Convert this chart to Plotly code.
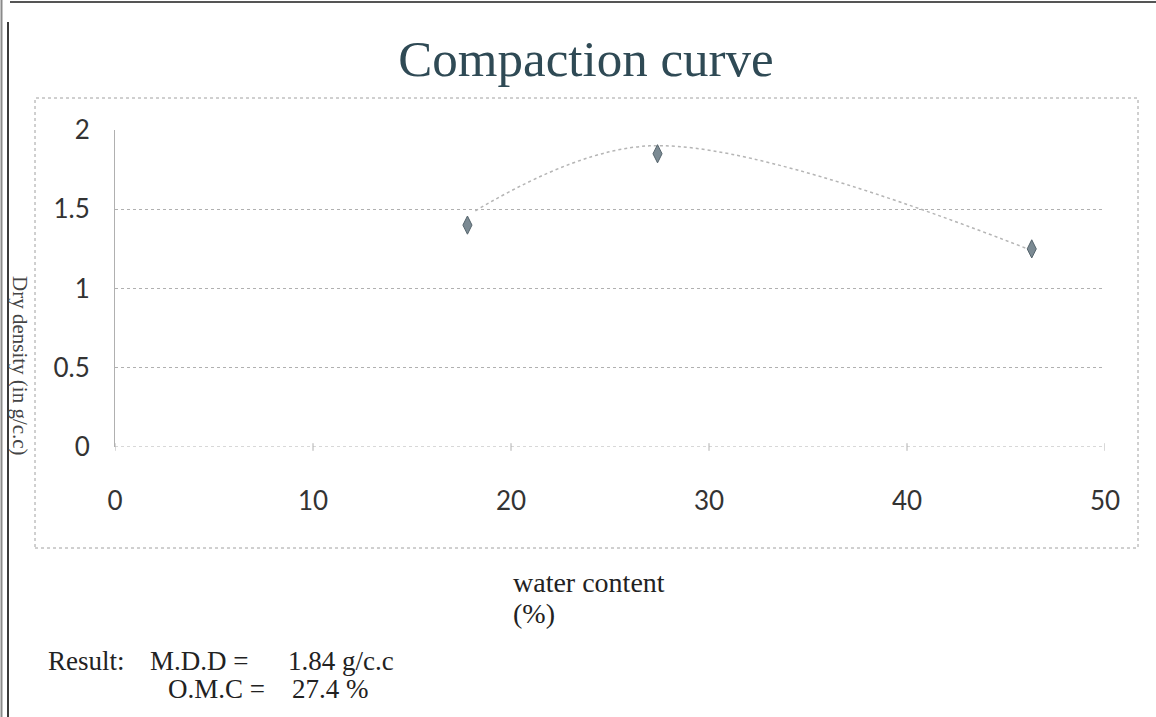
import plotly.graph_objects as go

# Data
water_content = [17.8, 27.4, 46.3]
dry_density = [1.40, 1.85, 1.25]

# smooth trend curve drawn through the data
curve_x = [18.2, 27.0, 46.3]
curve_y = [1.49, 1.90, 1.24]

x_ticks = [0, 10, 20, 30, 40, 50]
y_ticks = [0, 0.5, 1, 1.5, 2]

W, H = 1156, 717
L, R, T, B = 115, 51, 130, 270
PW, PH = W - L - R, H - T - B


def px(x):
    return (x - L) / PW


def py(y):
    return (H - B - y) / PH


fig = go.Figure()
fig.add_trace(go.Scatter(
    x=curve_x, y=curve_y, mode="lines",
    line=dict(shape="spline", smoothing=1.0, color="#b5b5b5", width=1.5, dash="dot"),
    hoverinfo="skip", showlegend=False))
fig.add_trace(go.Scatter(
    x=water_content, y=dry_density, mode="markers",
    marker=dict(symbol="diamond-tall", size=13, color="#7b8a93",
                line=dict(color="#55646c", width=1)),
    showlegend=False))

fig.update_layout(
    width=W, height=H,
    margin=dict(l=L, r=R, t=T, b=B),
    paper_bgcolor="white", plot_bgcolor="white",
    title=dict(text="Compaction curve", x=586 / W, xref="container", xanchor="center",
               y=1 - 58 / H, yref="container", yanchor="middle",
               font=dict(family="Liberation Serif", size=51, color="#2f4a55")),
    xaxis=dict(range=[0, 50], tickvals=x_ticks, showgrid=False, zeroline=False,
               showline=False, ticks="", ticklabelstandoff=36,
               tickfont=dict(family="Lato", size=26, color="#333333")),
    yaxis=dict(range=[0, 2], tickvals=y_ticks, showgrid=True, gridcolor="#b0b0b0",
               griddash="dot", gridwidth=1, zeroline=False, showline=True,
               linecolor="#b0b0b0", linewidth=1, ticks="", ticklabelstandoff=19,
               tickfont=dict(family="Lato", size=26, color="#333333")),
    showlegend=False,
)

shapes = [
    # chart area border
    dict(type="rect", xref="paper", yref="paper", x0=px(35), x1=px(1138),
         y0=py(548), y1=py(98), line=dict(color="#a0a0a0", width=1, dash="dot")),
    # scanned page borders
    dict(type="line", xref="paper", yref="paper", x0=px(8), x1=px(8),
         y0=py(717), y1=py(22), line=dict(color="#3a3a3a", width=2)),
    dict(type="line", xref="paper", yref="paper", x0=px(1.5), x1=px(1.5),
         y0=py(717), y1=py(0), line=dict(color="#8a8a8a", width=2)),
    dict(type="line", xref="paper", yref="paper", x0=px(10), x1=px(1156),
         y0=py(2), y1=py(2), line=dict(color="#555555", width=2)),
]
# x axis line at zero with small tick marks
shapes.append(dict(type="line", xref="x", yref="y", x0=0, x1=50, y0=0, y1=0,
                   line=dict(color="#b0b0b0", width=1, dash="dot")))
for t in x_ticks:
    shapes.append(dict(type="line", xref="x", yref="paper", x0=t, x1=t, y0=-0.012, y1=0.012,
                       line=dict(color="#b0b0b0", width=1)))
fig.update_layout(shapes=shapes)

serif = "Liberation Serif"
fig.add_annotation(text="Dry density (in g/c.c)", xref="paper", yref="paper",
                   x=px(20), y=py(366), xanchor="center", yanchor="middle",
                   textangle=90, showarrow=False,
                   font=dict(family=serif, size=21, color="#444444"))
fig.add_annotation(text="water content", xref="paper", yref="paper",
                   x=px(511), y=py(582), xanchor="left", yanchor="middle",
                   showarrow=False, font=dict(family=serif, size=28, color="#222222"))
fig.add_annotation(text="(%)", xref="paper", yref="paper",
                   x=px(511), y=py(613), xanchor="left", yanchor="middle",
                   showarrow=False, font=dict(family=serif, size=28, color="#222222"))

result_pieces = [
    ("Result:", 46, 661),
    ("M.D.D =", 148, 661),
    ("1.84 g/c.c", 286, 661),
    ("O.M.C =", 166, 689),
    ("27.4 %", 290, 689),
]
for txt, x0, y0 in result_pieces:
    fig.add_annotation(text=txt, xref="paper", yref="paper", x=px(x0), y=py(y0),
                       xanchor="left", yanchor="middle", showarrow=False,
                       font=dict(family=serif, size=27, color="#222222"))

fig.write_html("out.html")
